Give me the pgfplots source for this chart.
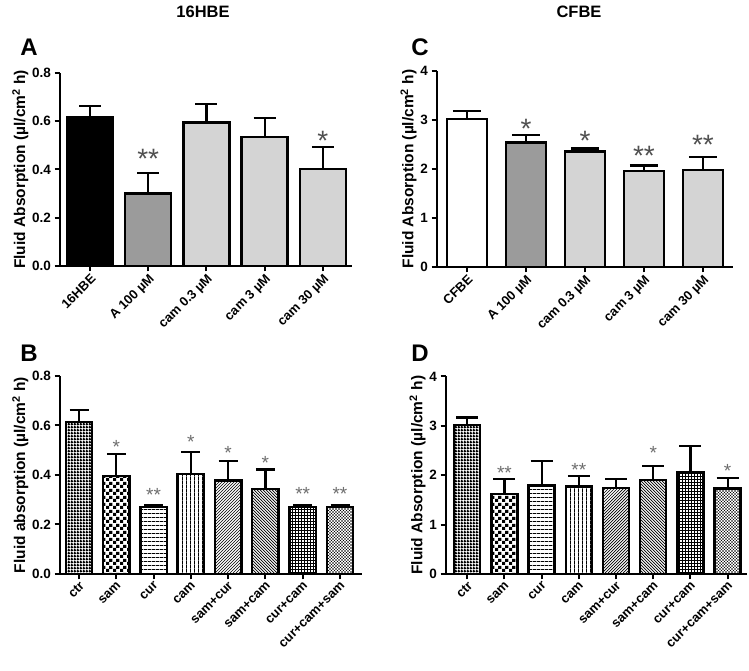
\documentclass[border=0pt]{standalone}
\usepackage{fontspec}
\setmainfont{Liberation Sans}
\usepackage{pgfplots}
\pgfplotsset{compat=1.18}
\usetikzlibrary{patterns}

\pgfdeclarepatternformonly{ctrpat}{\pgfpointorigin}{\pgfqpoint{2.6pt}{2.6pt}}{\pgfqpoint{2.6pt}{2.6pt}}{%
  \pgfpathrectangle{\pgfpointorigin}{\pgfqpoint{2.6pt}{1.6pt}}%
  \pgfpathrectangle{\pgfpointorigin}{\pgfqpoint{1.6pt}{2.6pt}}%
  \pgfusepath{fill}}
\pgfdeclarepatternformonly{sampat}{\pgfpointorigin}{\pgfqpoint{6.6pt}{6.6pt}}{\pgfqpoint{6.6pt}{6.6pt}}{%
  \pgfpathrectangle{\pgfpointorigin}{\pgfqpoint{3.3pt}{3.3pt}}%
  \pgfpathrectangle{\pgfqpoint{3.3pt}{3.3pt}}{\pgfqpoint{3.3pt}{3.3pt}}%
  \pgfusepath{fill}}
\pgfdeclarepatternformonly{hlpat}{\pgfpointorigin}{\pgfqpoint{3.6pt}{3.6pt}}{\pgfqpoint{3.6pt}{3.6pt}}{%
  \pgfpathrectangle{\pgfpointorigin}{\pgfqpoint{3.6pt}{1.0pt}}\pgfusepath{fill}}
\pgfdeclarepatternformonly{vlpat}{\pgfpointorigin}{\pgfqpoint{3.8pt}{3.8pt}}{\pgfqpoint{3.8pt}{3.8pt}}{%
  \pgfpathrectangle{\pgfpointorigin}{\pgfqpoint{1.0pt}{3.8pt}}\pgfusepath{fill}}
\pgfdeclarepatternformonly{nepat}{\pgfqpoint{-1pt}{-1pt}}{\pgfqpoint{4pt}{4pt}}{\pgfqpoint{3pt}{3pt}}{%
  \pgfsetlinewidth{0.7pt}\pgfpathmoveto{\pgfqpoint{0pt}{0pt}}\pgfpathlineto{\pgfqpoint{3.1pt}{3.1pt}}\pgfusepath{stroke}}
\pgfdeclarepatternformonly{nwpat}{\pgfqpoint{-1pt}{-1pt}}{\pgfqpoint{4pt}{4pt}}{\pgfqpoint{3pt}{3pt}}{%
  \pgfsetlinewidth{0.7pt}\pgfpathmoveto{\pgfqpoint{0pt}{3pt}}\pgfpathlineto{\pgfqpoint{3.1pt}{-0.1pt}}\pgfusepath{stroke}}
\pgfdeclarepatternformonly{gridpat}{\pgfpointorigin}{\pgfqpoint{3.4pt}{3.4pt}}{\pgfqpoint{3.4pt}{3.4pt}}{%
  \pgfpathrectangle{\pgfpointorigin}{\pgfqpoint{3.4pt}{1.1pt}}%
  \pgfpathrectangle{\pgfpointorigin}{\pgfqpoint{1.1pt}{3.4pt}}\pgfusepath{fill}}
\pgfdeclarepatternformonly{xpat}{\pgfqpoint{-1pt}{-1pt}}{\pgfqpoint{4pt}{4pt}}{\pgfqpoint{3pt}{3pt}}{%
  \pgfsetlinewidth{0.3pt}\pgfpathmoveto{\pgfqpoint{0pt}{0pt}}\pgfpathlineto{\pgfqpoint{3.1pt}{3.1pt}}%
  \pgfpathmoveto{\pgfqpoint{0pt}{3pt}}\pgfpathlineto{\pgfqpoint{3.1pt}{-0.1pt}}\pgfusepath{stroke}}

\definecolor{midgray}{RGB}{155,155,155}
\definecolor{lightgray2}{RGB}{212,212,212}
\definecolor{stardark}{RGB}{80,80,80}
\definecolor{starlight}{RGB}{110,110,110}

\pgfplotsset{
  prism/.style={
    scale only axis, clip=false,
    axis x line*=bottom, axis y line*=left,
    axis line style={line width=2pt},
    every tick/.style={line width=2pt, black},
    major tick length=5.5pt, tick align=outside,
    ymin=0,
    /pgf/number format/assume math mode=true,
    yticklabel style={font=\fontsize{13.5}{15}\selectfont\bfseries},
    xticklabel style={font=\fontsize{13}{15}\selectfont\bfseries, rotate=45, anchor=north east, inner sep=1pt},
    ylabel style={font=\fontsize{15.5}{17}\selectfont\bfseries},
    ylabel shift=-3pt,
  },
  bar/.style={ybar, bar shift=0pt, draw=black, line width=2.4pt,
    error bars/y dir=plus, error bars/y explicit,
    error bars/error bar style={line width=2.2pt, black},
    error bars/error mark options={rotate=90, line width=2.2pt, black, mark size=#1}},
  stars/.style={draw=none, mark=none, point meta=explicit symbolic, nodes near coords,
    nodes near coords style={anchor=center, inner sep=0pt, text=#1}},
}

\begin{document}
\begin{tikzpicture}[x=1pt,y=1pt]
\path[use as bounding box] (0,0) rectangle (749,671);

\node[font=\fontsize{16.5}{18}\selectfont\bfseries] at (203,659) {16HBE};
\node[font=\fontsize{16.5}{18}\selectfont\bfseries] at (579,659) {CFBE};
\node[font=\fontsize{24}{26}\selectfont\bfseries] at (29,624) {A};
\node[font=\fontsize{24}{26}\selectfont\bfseries] at (420,624) {C};
\node[font=\fontsize{24}{26}\selectfont\bfseries] at (29,318) {B};
\node[font=\fontsize{24}{26}\selectfont\bfseries] at (420,318) {D};

% Panel A
\begin{axis}[prism, at={(60pt,405pt)}, anchor=south west, width=292pt, height=193pt,
  xmin=-0.516, xmax=4.5, ymax=0.8, ytick={0,0.2,0.4,0.6,0.8},
  yticklabel style={/pgf/number format/.cd, fixed, fixed zerofill, precision=1},
  xtick={0,1,2,3,4},
  xticklabels={16HBE, A 100 µM, cam 0.3 µM, cam 3 µM, cam 30 µM},
  ylabel={Fluid Absorption (µl/cm\textsuperscript{2} h)}]
\addplot[bar=11pt, bar width=0.79, fill=black] coordinates {(0,0.618) +- (0,0.044)};
\addplot[bar=11pt, bar width=0.79, fill=midgray] coordinates {(1,0.301) +- (0,0.083)};
\addplot[bar=11pt, bar width=0.79, fill=lightgray2] coordinates {(2,0.594) +- (0,0.077)};
\addplot[bar=11pt, bar width=0.79, fill=lightgray2] coordinates {(3,0.535) +- (0,0.077)};
\addplot[bar=11pt, bar width=0.79, fill=lightgray2] coordinates {(4,0.402) +- (0,0.091)};
\addplot[stars=stardark, nodes near coords style={font=\fontsize{28}{28}\selectfont, yshift=-6pt}]
  coordinates {(1,0.470) [**] (4,0.543) [*]};
\end{axis}

% Panel C
\begin{axis}[prism, at={(437pt,404pt)}, anchor=south west, width=296pt, height=196pt,
  xmin=-0.508, xmax=4.51, ymax=4, ytick={0,1,2,3,4},
  xtick={0,1,2,3,4},
  xticklabels={CFBE, A 100 µM, cam 0.3 µM, cam 3 µM, cam 30 µM},
  ylabel={Fluid Absorption (µl/cm\textsuperscript{2} h)}]
\addplot[bar=14pt, bar width=0.68, fill=white] coordinates {(0,3.02) +- (0,0.16)};
\addplot[bar=14pt, bar width=0.68, fill=midgray] coordinates {(1,2.54) +- (0,0.16)};
\addplot[bar=14pt, bar width=0.68, fill=lightgray2] coordinates {(2,2.36) +- (0,0.06)};
\addplot[bar=14pt, bar width=0.68, fill=lightgray2] coordinates {(3,1.96) +- (0,0.11)};
\addplot[bar=14pt, bar width=0.68, fill=lightgray2] coordinates {(4,1.98) +- (0,0.27)};
\addplot[stars=stardark, nodes near coords style={font=\fontsize{28}{28}\selectfont, yshift=-6pt}]
  coordinates {(1,2.95) [*] (2,2.70) [*] (3,2.39) [**] (4,2.61) [**]};
\end{axis}

% Panel B
\begin{axis}[prism, at={(60pt,97pt)}, anchor=south west, width=302pt, height=198pt,
  xmin=-0.51, xmax=7.59, ymax=0.8, ytick={0,0.2,0.4,0.6,0.8},
  yticklabel style={/pgf/number format/.cd, fixed, fixed zerofill, precision=1},
  xtick={0,...,7},
  xticklabels={ctr, sam, cur, cam, sam+cur, sam+cam, cur+cam, cur+cam+sam},
  ylabel={Fluid absorption (µl/cm\textsuperscript{2} h)}]
\addplot[bar=9.5pt, bar width=0.71, pattern=ctrpat] coordinates {(0,0.614) +- (0,0.050)};
\addplot[bar=9.5pt, bar width=0.71, pattern=sampat] coordinates {(1,0.395) +- (0,0.090)};
\addplot[bar=9.5pt, bar width=0.71, pattern=hlpat] coordinates {(2,0.271) +- (0,0.009)};
\addplot[bar=9.5pt, bar width=0.71, pattern=vlpat] coordinates {(3,0.404) +- (0,0.088)};
\addplot[bar=9.5pt, bar width=0.71, pattern=nepat] coordinates {(4,0.378) +- (0,0.077)};
\addplot[bar=9.5pt, bar width=0.71, pattern=nwpat] coordinates {(5,0.343) +- (0,0.079)};
\addplot[bar=9.5pt, bar width=0.71, pattern=gridpat] coordinates {(6,0.271) +- (0,0.008)};
\addplot[bar=9.5pt, bar width=0.71, pattern=xpat] coordinates {(7,0.271) +- (0,0.008)};
\addplot[stars=starlight, nodes near coords style={font=\fontsize{19}{19}\selectfont, yshift=-4pt}]
  coordinates {(1,0.529) [*] (2,0.337) [**] (3,0.549) [*] (4,0.506) [*] (5,0.466) [*] (6,0.341) [**] (7,0.341) [**]};
\end{axis}

% Panel D
\begin{axis}[prism, at={(446pt,97pt)}, anchor=south west, width=301pt, height=197.6pt,
  xmin=-0.57, xmax=7.52, ymax=4, ytick={0,1,2,3,4},
  xtick={0,...,7},
  xticklabels={ctr, sam, cur, cam, sam+cur, sam+cam, cur+cam, cur+cam+sam},
  ylabel={Fluid Absorption (µl/cm\textsuperscript{2} h)}]
\addplot[bar=11pt, bar width=0.70, pattern=ctrpat] coordinates {(0,3.02) +- (0,0.15)};
\addplot[bar=11pt, bar width=0.70, pattern=sampat] coordinates {(1,1.62) +- (0,0.30)};
\addplot[bar=11pt, bar width=0.70, pattern=hlpat] coordinates {(2,1.79) +- (0,0.50)};
\addplot[bar=11pt, bar width=0.70, pattern=vlpat] coordinates {(3,1.77) +- (0,0.21)};
\addplot[bar=11pt, bar width=0.70, pattern=nepat] coordinates {(4,1.74) +- (0,0.18)};
\addplot[bar=11pt, bar width=0.70, pattern=nwpat] coordinates {(5,1.90) +- (0,0.28)};
\addplot[bar=11pt, bar width=0.70, pattern=gridpat] coordinates {(6,2.06) +- (0,0.53)};
\addplot[bar=11pt, bar width=0.70, pattern=xpat] coordinates {(7,1.73) +- (0,0.21)};
\addplot[stars=starlight, nodes near coords style={font=\fontsize{19}{19}\selectfont, yshift=-4pt}]
  coordinates {(1,2.13) [**] (3,2.18) [**] (5,2.53) [*] (7,2.16) [*]};
\end{axis}
\end{tikzpicture}
\end{document}
